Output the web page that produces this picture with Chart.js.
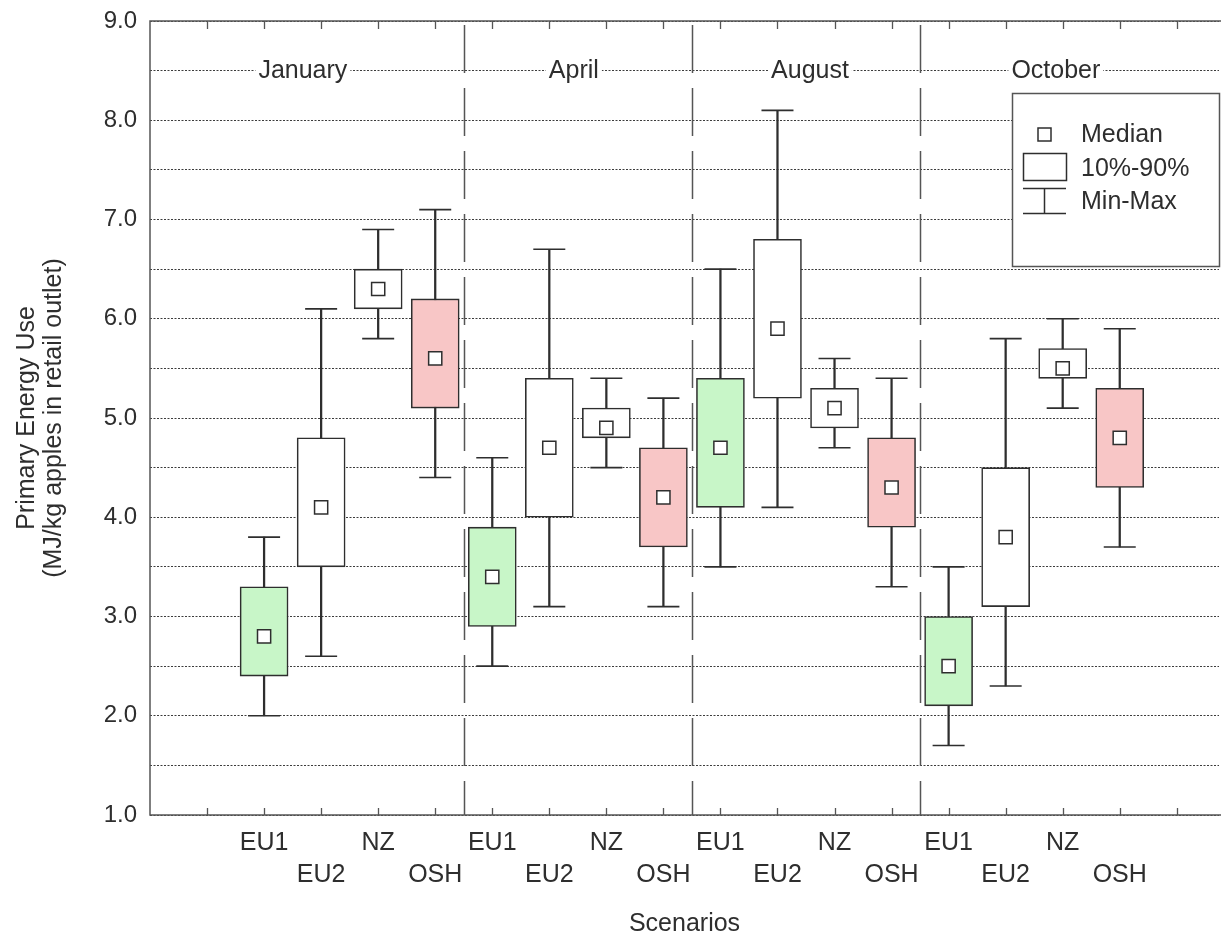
<!DOCTYPE html>
<html><head><meta charset="utf-8">
<script src="https://cdn.jsdelivr.net/npm/chart.js@4.4.0/dist/chart.umd.min.js"></script>
<style>html,body{margin:0;padding:0;background:#fff;overflow:hidden}canvas{display:block}</style>
</head><body><canvas id="c" width="1221" height="937" style="width:1221px;height:937px"></canvas>
<script>
// ---- data ----
const months = ['January', 'April', 'August', 'October'];
const scenarios = ['EU1', 'EU2', 'NZ', 'OSH'];
const minVals = [2.0, 2.6, 5.8, 4.4, 2.5, 3.1, 4.5, 3.1, 3.5, 4.1, 4.7, 3.3, 1.7, 2.3, 5.1, 3.7];
const p10Vals = [2.4, 3.5, 6.1, 5.1, 2.9, 4.0, 4.8, 3.7, 4.1, 5.2, 4.9, 3.9, 2.1, 3.1, 5.4, 4.3];
const medianVals = [2.8, 4.1, 6.3, 5.6, 3.4, 4.7, 4.9, 4.2, 4.7, 5.9, 5.1, 4.3, 2.5, 3.8, 5.5, 4.8];
const p90Vals = [3.3, 4.8, 6.5, 6.2, 3.9, 5.4, 5.1, 4.7, 5.4, 6.8, 5.3, 4.8, 3.0, 4.5, 5.7, 5.3];
const maxVals = [3.8, 6.1, 6.9, 7.1, 4.6, 6.7, 5.4, 5.2, 6.5, 8.1, 5.6, 5.4, 3.5, 5.8, 6.0, 5.9];
const yTickLabels = ['1.0', '2.0', '3.0', '4.0', '5.0', '6.0', '7.0', '8.0', '9.0'];
const legendLabels = ['Median', '10%-90%', 'Min-Max'];
const xTitle = 'Scenarios';
const yTitle = ['Primary Energy Use', '(MJ/kg apples in retail outlet)'];

// ---- styling / layout ----
const FONT = '"Liberation Sans", Arial, Helvetica, sans-serif';
const INK = '#2e2e2e';
const FRAME = '#555555';
const GREEN = '#c8f6c8';
const PINK = '#f8c6c6';
const N = minVals.length;
const START = 2;                       // x position of the first scenario on the linear axis
const X_MAX = 18.74;
const pos = i => i + START;
const scen = i => scenarios[i % scenarios.length];
const fillFor = i => scen(i) === 'EU1' ? GREEN : (scen(i) === 'OSH' ? PINK : '#ffffff');
const monthLabelX = [2.68, 7.43, 11.57, 15.88];

Chart.defaults.font.family = FONT;
Chart.defaults.color = INK;

const idx = Array.from({length: N}, (_, i) => i);

const deco = {
  id: 'deco',
  beforeDatasetsDraw(chart) {
    const {ctx, chartArea: a, scales: {x}} = chart;
    ctx.save();
    ctx.strokeStyle = FRAME;
    ctx.lineWidth = 1.5;
    ctx.setLineDash([48, 15]);
    for (let g = 1; g < months.length; g++) {
      const px = Math.round(x.getPixelForValue(pos(g * scenarios.length) - 0.5)) + 0.5;
      ctx.lineDashOffset = -4;
      ctx.beginPath(); ctx.moveTo(px, a.top); ctx.lineTo(px, a.bottom); ctx.stroke();
    }
    ctx.restore();
  },
  afterDatasetsDraw(chart) {
    const {ctx, chartArea: a, scales: {x, y}} = chart;
    ctx.save();
    // frame
    ctx.strokeStyle = FRAME; ctx.lineWidth = 1.5; ctx.setLineDash([]);
    ctx.beginPath();
    ctx.moveTo(chart.width, a.top); ctx.lineTo(a.left, a.top); ctx.lineTo(a.left, a.bottom); ctx.lineTo(chart.width, a.bottom);
    ctx.stroke();
    // inward tick marks on top and bottom axis
    ctx.lineWidth = 1.3;
    x.ticks.forEach(t => {
      if (t.value <= x.min + 0.01 || t.value >= x.max - 0.01) return;
      const px = Math.round(x.getPixelForValue(t.value)) + 0.5;
      ctx.beginPath();
      ctx.moveTo(px, a.top); ctx.lineTo(px, a.top + 8);
      ctx.moveTo(px, a.bottom); ctx.lineTo(px, a.bottom - 7);
      ctx.stroke();
    });
    // month labels
    ctx.font = '25px ' + FONT;
    ctx.textAlign = 'center'; ctx.textBaseline = 'middle';
    const my = y.getPixelForValue(8.5);
    months.forEach((m, k) => {
      const px = x.getPixelForValue(monthLabelX[k]);
      const w = ctx.measureText(m).width;
      ctx.fillStyle = '#fff';
      ctx.fillRect(px - w / 2 - 3, my - 12, w + 6, 24);
      ctx.fillStyle = INK;
      ctx.fillText(m, px, my);
    });
    // legend
    const L = {x: 1012, y: 93, w: 208, h: 174};
    ctx.fillStyle = '#fff';
    ctx.fillRect(L.x, L.y, L.w, L.h);
    ctx.strokeStyle = FRAME; ctx.lineWidth = 1.5;
    ctx.strokeRect(L.x + 0.5, L.y + 0.5, L.w - 1, L.h - 1);
    ctx.strokeStyle = INK; ctx.lineWidth = 1.5;
    ctx.strokeRect(1038, 128, 13, 13);
    ctx.strokeRect(1023.5, 153.5, 43, 27);
    ctx.beginPath();
    ctx.moveTo(1023, 188.5); ctx.lineTo(1066, 188.5);
    ctx.moveTo(1044.5, 188.5); ctx.lineTo(1044.5, 213.5);
    ctx.moveTo(1023, 213.5); ctx.lineTo(1066, 213.5);
    ctx.stroke();
    ctx.fillStyle = INK; ctx.textAlign = 'left';
    ctx.font = '25px ' + FONT;
    ctx.fillText(legendLabels[0], 1081, 135);
    ctx.fillText(legendLabels[1], 1081, 169);
    ctx.fillText(legendLabels[2], 1081, 202);
    ctx.restore();
  }
};

new Chart(document.getElementById('c'), {
  type: 'bar',
  data: {
    datasets: [
      {
        type: 'bar', label: 'whisker', order: 3, grouped: false,
        data: idx.map(i => ({x: pos(i), y: [minVals[i], maxVals[i]]})),
        barThickness: 1.6, backgroundColor: INK, borderWidth: 0
      },
      {
        type: 'bar', label: '10%-90%', order: 2, grouped: false,
        data: idx.map(i => ({x: pos(i), y: [p10Vals[i], p90Vals[i]]})),
        barThickness: 48, backgroundColor: idx.map(fillFor),
        borderColor: INK, borderWidth: 1.6, borderSkipped: false
      },
      {
        type: 'scatter', label: 'caps', order: 1,
        data: idx.flatMap(i => [{x: pos(i), y: minVals[i]}, {x: pos(i), y: maxVals[i]}]),
        pointStyle: 'line', pointRadius: 16, borderColor: INK, borderWidth: 1.6, showLine: false
      },
      {
        type: 'scatter', label: 'Median', order: 0,
        data: idx.map(i => ({x: pos(i), y: medianVals[i]})),
        pointStyle: 'rect', pointRadius: 9.3, backgroundColor: '#fff', borderColor: INK, borderWidth: 1.5, showLine: false
      }
    ]
  },
  options: {
    responsive: false, animation: false, events: [], devicePixelRatio: 1,
    layout: {autoPadding: false, padding: {left: 0, right: 2, top: 21, bottom: 0}},
    plugins: {legend: {display: false}, tooltip: {enabled: false}},
    scales: {
      x: {
        type: 'linear', offset: false, min: 0, max: X_MAX, bounds: 'data',
        grid: {display: false, offset: false, drawTicks: false},
        border: {display: false},
        afterFit: s => { s.height = 122; s.paddingLeft = 0; s.paddingRight = 0; },
        ticks: {
          stepSize: 1, includeBounds: false, autoSkip: false, maxRotation: 0, minRotation: 0,
          padding: 12, color: INK, font: {size: 25, lineHeight: 1.28},
          callback: v => {
            const i = Math.round(v) - START;
            if (Math.abs(v - Math.round(v)) > 1e-6 || i < 0 || i >= N) return '';
            return (i % 2 === 0) ? scen(i) : ['', scen(i)];
          }
        },
        title: {display: true, text: xTitle, color: INK, font: {size: 25, lineHeight: 1}, padding: 0}
      },
      y: {
        type: 'linear', min: 1, max: 9,
        afterFit: s => { s.width = 150; s.paddingTop = 0; s.paddingBottom = 0; },
        grid: {color: '#3c3c3c', lineWidth: 1, drawTicks: false},
        border: {display: false, dash: [2, 1.5]},
        ticks: {
          stepSize: 0.5, padding: 13, color: INK, font: {size: 24},
          callback: v => Number.isInteger(v) ? yTickLabels[v - 1] : ''
        },
        title: {display: true, text: yTitle, color: INK, font: {size: 25, lineHeight: 1.1}, padding: {top: 13, bottom: 0}}
      }
    }
  },
  plugins: [deco]
});
</script>
</body></html>
